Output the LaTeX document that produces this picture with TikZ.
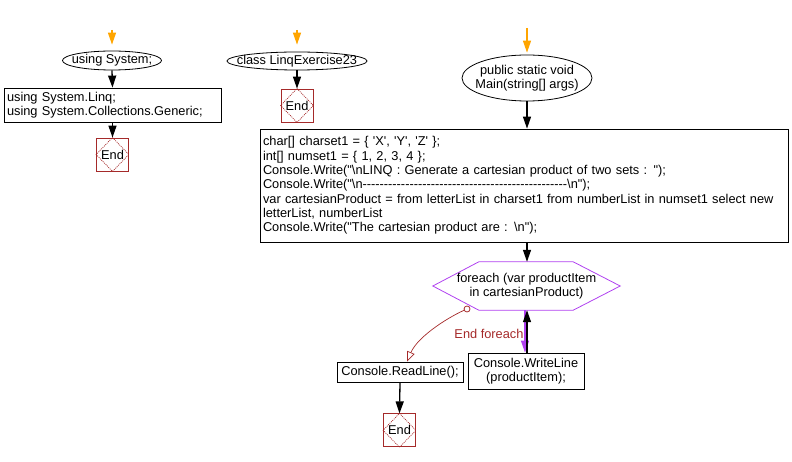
\documentclass[tikz,border=0pt]{standalone}
\usepackage{fontspec}
\newfontfamily\lsans{Liberation Sans}
\usetikzlibrary{arrows.meta,calc,shapes.geometric}
\definecolor{endred}{HTML}{A52A2A}
\definecolor{loopviolet}{HTML}{B040F0}
\definecolor{startorange}{HTML}{FFA500}
\newcommand{\EndDiamond}[1]{\draw[endred, line width=0.7pt, dash pattern=on 1pt off 1pt] (#1.north) -- (#1.east) -- (#1.south) -- (#1.west) -- cycle;}
\begin{document}
\begin{tikzpicture}[x=1pt,y=-1pt,
  font=\lsans\fontsize{12.8}{14.3}\selectfont,
  startarrow/.style={draw=startorange, line width=1.3pt, -{Triangle[width=8pt,length=12pt]}},
  flow/.style={draw=black, line width=1.3pt, -{Triangle[width=8pt,length=12pt]}},
  proc/.style={draw, rectangle, line width=0.8pt, inner xsep=3pt, inner ysep=1pt, align=left},
  term/.style={draw, ellipse, inner sep=0pt, line width=0.8pt},
  endbox/.style={draw=endred, rectangle, minimum width=32pt, minimum height=33pt, inner sep=0pt, line width=0.8pt},
  plain/.style={inner sep=0pt, align=center}]
\useasboundingbox (0,0) rectangle (792,462);

% column 1
\coordinate (s1) at (112,30);
\node[term, minimum width=99pt, minimum height=19pt] (e1) at (112,60.5) {};
\node[plain] (e1t) at (e1.center) {using System;};
\node[proc, text width=211pt, minimum height=34pt] (b1) at (112.5,105) {using System.Linq;\\using System.Collections.Generic;};
\node[endbox] (E1) at (112.5,154.5) {End};
\EndDiamond{E1}
\draw[startarrow, shorten >=6pt] (s1) -- (e1.north);
\draw[flow] (e1.south) -- (b1.north);
\draw[flow] (b1.south) -- (E1.north);

% column 2
\coordinate (s2) at (297,30);
\node[term, minimum width=140pt, minimum height=18pt] (e2) at (297,61) {};
\node[plain] (e2t) at (e2.center) {class LinqExercise23};
\node[endbox] (E2) at (297,105.5) {End};
\EndDiamond{E2}
\draw[startarrow, shorten >=7pt] (s2) -- (e2.north);
\draw[flow] (e2.south) -- (E2.north);

% column 3
\coordinate (s3) at (527,28);
\node[term, minimum width=130pt, minimum height=46pt] (e3) at (527,78) {};
\node[plain] (e3t) at (e3.center) {public static void\\Main(string[] args)};
\node[proc, text width=522pt, minimum height=113pt] (bb) at (524,185.5) {char[] charset1 = \{ 'X', 'Y', 'Z' \};\\
int[] numset1 = \{ 1, 2, 3, 4 \};\\
Console.Write("\textbackslash nLINQ : Generate a cartesian product of two sets : ");\\
Console.Write("\textbackslash n------------------------------------------------\textbackslash n");\\
var cartesianProduct = from letterList in charset1 from numberList in numset1 select new\\
letterList, numberList\\
Console.Write("The cartesian product are : \textbackslash n");};
\draw[startarrow, shorten >=2pt] (s3) -- (e3.north);
\draw[flow] (e3.south) -- (e3.south |- bb.north);

% loop
\node[minimum width=187pt, minimum height=48pt, inner sep=0pt] (hx) at (526.5,286) {};
\draw[loopviolet, line width=0.8pt] (hx.west) -- ([xshift=46pt]hx.north west) -- ([xshift=-47pt]hx.north east) -- (hx.east) -- ([xshift=-47pt]hx.south east) -- ([xshift=46pt]hx.south west) -- cycle;
\node[plain] (hxt) at (hx.center) {foreach (var productItem\\in cartesianProduct)};
\draw[flow] (e3.south |- bb.south) -- (e3.south |- hx.north);

\node[proc, align=center, minimum width=116pt, minimum height=36pt, inner xsep=0pt] (wl) at (526,371) {Console.WriteLine\\(productItem);};
\draw[draw=loopviolet, line width=1.3pt, -{Triangle[width=8pt,length=12pt]}] ([xshift=-1.5pt]hx.south) -- ([xshift=-1pt]wl.north);
\draw[flow] ([xshift=1pt]wl.north) -- ([xshift=0.5pt]hx.south);
\node[text=endred, inner sep=0pt] (ef) at (489,334) {End foreach};

\node[proc, align=center, minimum width=126pt, minimum height=20pt, inner xsep=0pt] (rl) at (400,372) {Console.ReadLine();};
\coordinate (xo) at (467,309);
\draw[endred, line width=0.7pt, -{Triangle[open, width=8pt, length=10pt]}] (xo) .. controls (450,316) and (418,336) .. ([xshift=7pt]rl.north);
\draw[endred, line width=0.8pt, fill=white] (xo) circle (3pt);
\node[endbox] (E3) at (399.5,430.3) {End};
\EndDiamond{E3}
\draw[flow] (rl.south) -- (E3.north);
\end{tikzpicture}
\end{document}
